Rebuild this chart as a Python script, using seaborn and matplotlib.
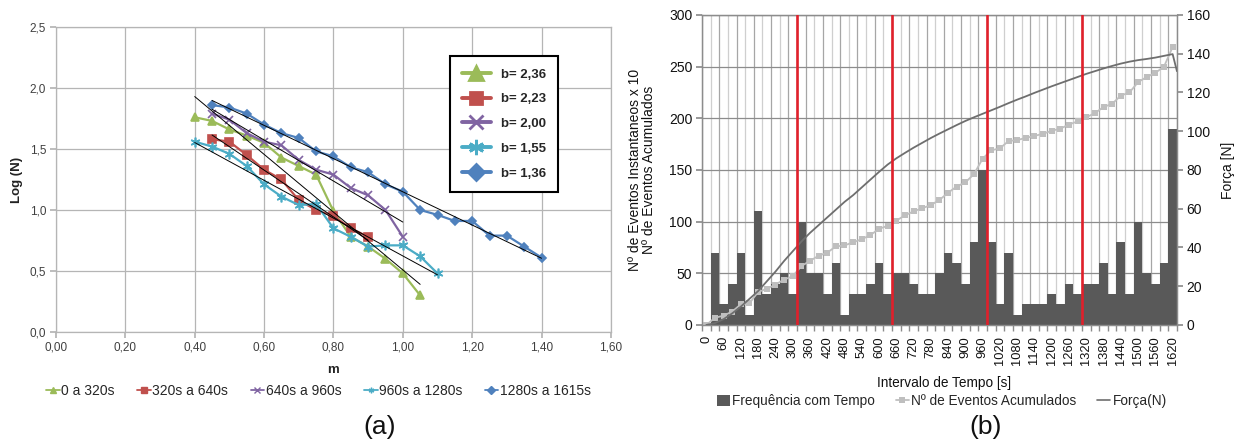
import numpy as np
import matplotlib
matplotlib.use("Agg")
import matplotlib.pyplot as plt
import seaborn as sns
from matplotlib.lines import Line2D
from matplotlib.patches import Patch
from matplotlib.ticker import FuncFormatter, MultipleLocator

# ---------------- Panel (a) data ----------------
m_s1 = [0.40, 0.45, 0.50, 0.55, 0.60, 0.65, 0.70, 0.75, 0.80, 0.85, 0.90, 0.95, 1.00, 1.05]
logn_s1 = [1.76, 1.73, 1.66, 1.61, 1.55, 1.43, 1.36, 1.29, 0.99, 0.78, 0.70, 0.60, 0.48, 0.30]

m_s2 = [0.45, 0.50, 0.55, 0.60, 0.65, 0.70, 0.75, 0.80, 0.85, 0.90]
logn_s2 = [1.58, 1.56, 1.45, 1.33, 1.25, 1.08, 1.00, 0.95, 0.85, 0.78]

m_s3 = [0.45, 0.50, 0.55, 0.60, 0.65, 0.70, 0.75, 0.80, 0.85, 0.90, 0.95, 1.00]
logn_s3 = [1.79, 1.74, 1.63, 1.56, 1.53, 1.41, 1.33, 1.29, 1.18, 1.12, 1.00, 0.78]

m_s4 = [0.40, 0.45, 0.50, 0.55, 0.60, 0.65, 0.70, 0.75, 0.80, 0.85, 0.90, 0.95, 1.00, 1.05, 1.10]
logn_s4 = [1.56, 1.52, 1.46, 1.36, 1.21, 1.11, 1.04, 1.05, 0.85, 0.78, 0.70, 0.71, 0.71, 0.62, 0.48]

m_s5 = [0.45, 0.50, 0.55, 0.60, 0.65, 0.70, 0.75, 0.80, 0.85, 0.90, 0.95, 1.00,
        1.05, 1.10, 1.15, 1.20, 1.25, 1.30, 1.35, 1.40]
logn_s5 = [1.86, 1.84, 1.79, 1.70, 1.63, 1.59, 1.48, 1.44, 1.35, 1.31, 1.21, 1.15,
           1.00, 0.96, 0.91, 0.91, 0.79, 0.79, 0.70, 0.61]

series_labels = ["0 a 320s", "320s a 640s", "640s a 960s", "960s a 1280s", "1280s a 1615s"]
b_labels = ["b= 2,36", "b= 2,23", "b= 2,00", "b= 1,55", "b= 1,36"]

# ---------------- Panel (b) data ----------------
time_s = [0, 30, 60, 90, 120, 150, 180, 210, 240, 270, 300, 330, 360, 390, 420, 450,
          480, 510, 540, 570, 600, 630, 660, 690, 720, 750, 780, 810, 840, 870, 900,
          930, 960, 990, 1020, 1050, 1080, 1110, 1140, 1170, 1200, 1230, 1260, 1290,
          1320, 1350, 1380, 1410, 1440, 1470, 1500, 1530, 1560, 1590, 1620]
freq_x10 = [0, 70, 20, 40, 70, 10, 110, 30, 40, 50, 30, 100, 50, 50, 30, 60, 10, 30,
            30, 40, 60, 30, 50, 50, 40, 30, 30, 50, 70, 60, 40, 80, 150, 80, 20, 70,
            10, 20, 20, 20, 30, 20, 40, 30, 40, 40, 60, 30, 80, 30, 100, 50, 40, 60, 190]
cumulative = [0, 7, 9, 13, 20, 21, 32, 35, 39, 44, 47, 57, 62, 67, 70, 76, 77, 80, 83,
              87, 93, 96, 101, 106, 110, 113, 116, 121, 128, 134, 138, 146, 161, 169,
              171, 178, 179, 181, 183, 185, 188, 190, 194, 197, 201, 205, 211, 214, 222,
              225, 235, 240, 244, 250, 269]
force_time = [0, 30, 60, 90, 120, 150, 180, 210, 240, 270, 300, 330, 360, 390, 420, 450,
              480, 510, 540, 570, 600, 630, 660, 690, 720, 750, 780, 810, 840, 870, 900,
              930, 960, 990, 1020, 1050, 1080, 1110, 1140, 1170, 1200, 1230, 1260, 1290,
              1320, 1350, 1380, 1410, 1440, 1470, 1500, 1530, 1560, 1590, 1620, 1635]
force_n = [0, 1, 3, 6, 9.5, 13.5, 17.5, 22.5, 27.5, 33, 38, 43, 47.5, 51.5, 55.5, 59.5,
           63.5, 67, 71, 75, 79, 82.8, 86, 88.8, 91.5, 94, 96.5, 98.8, 101, 103.2, 105.3,
           107.2, 109, 110.8, 112.6, 114.5, 116.3, 118, 119.8, 121.5, 123.2, 124.8,
           126.4, 128, 129.6, 131, 132.4, 133.7, 134.9, 135.9, 136.7, 137.3, 138, 138.9,
           139.8, 131]
red_marks_s = [315, 645, 975, 1305]
xtick_times = [0, 60, 120, 180, 240, 300, 360, 420, 480, 540, 600, 660, 720, 780, 840,
               900, 960, 1020, 1080, 1140, 1200, 1260, 1320, 1380, 1440, 1500, 1560, 1620]

# ---------------- Style ----------------
sns.set_theme(style="white")
plt.rcParams['font.family'] = ['Liberation Sans', 'DejaVu Sans']

fig = plt.figure(figsize=(12.44, 4.43), dpi=100)
axa = fig.add_axes([0.0450, 0.2506, 0.4461, 0.6885])
axb = fig.add_axes([0.5643, 0.2664, 0.3818, 0.6998])

# ---------------- Panel (a) ----------------
cols = ["#9BBB59", "#C0504D", "#8064A2", "#4BACC6", "#4F81BD"]
marks = ["^", "s", "x", (6, 2, 0), "D"]
msize = [6, 5.5, 6, 7, 4.5]
big_msize = [10, 9, 10, 11, 8]
data_a = [(m_s1, logn_s1), (m_s2, logn_s2), (m_s3, logn_s3), (m_s4, logn_s4), (m_s5, logn_s5)]

grid_a = "#B5B5B5"
for (xv, yv), c, mk, ms in zip(data_a, cols, marks, msize):
    sns.lineplot(x=np.array(xv), y=np.array(yv), ax=axa, color=c, marker=mk,
                 markersize=ms, markeredgecolor=c, markeredgewidth=1.2,
                 linewidth=1.6, zorder=3)
for (xv, yv) in data_a:
    sns.regplot(x=np.array(xv), y=np.array(yv), ax=axa, scatter=False, ci=None,
                truncate=True, line_kws=dict(color="black", lw=0.7, zorder=4))

axa.set_xlim(0, 1.6)
axa.set_ylim(0, 2.5)
axa.xaxis.set_major_locator(MultipleLocator(0.2))
axa.yaxis.set_major_locator(MultipleLocator(0.5))
axa.xaxis.set_major_formatter(FuncFormatter(lambda v, _: f"{v:.2f}".replace(".", ",")))
axa.yaxis.set_major_formatter(FuncFormatter(lambda v, _: f"{v:.1f}".replace(".", ",")))
axa.grid(True, color=grid_a, lw=0.9)
axa.set_axisbelow(True)
for sp in axa.spines.values():
    sp.set_color(grid_a)
    sp.set_linewidth(0.9)
axa.tick_params(direction="out", length=4, color=grid_a, labelsize=8.5,
                labelcolor="#404040", left=True, bottom=True, pad=3)
axa.set_xlabel("m", fontweight="bold", fontsize=9.5, color="#222222")
axa.xaxis.set_label_coords(0.5, -0.104)
axa.set_ylabel("Log (N)", fontweight="bold", fontsize=9.5, color="#222222")
axa.yaxis.set_label_coords(-0.06, 0.5)

big_handles = [Line2D([0], [0], color=c, lw=2.8, marker=mk, markersize=bm,
                      markeredgecolor=c, markeredgewidth=2)
               for c, mk, bm in zip(cols, marks, big_msize)]
leg1 = axa.legend(big_handles, b_labels, loc="upper left", bbox_to_anchor=(0.698, 0.925),
                  frameon=True, prop=dict(weight="bold", size=9.5), handlelength=2.2,
                  labelspacing=0.95, borderpad=0.9, fancybox=False, edgecolor="black",
                  framealpha=1, handletextpad=0.8)
leg1.get_frame().set_linewidth(1.5)

small_handles = [Line2D([0], [0], color=c, lw=1.3, marker=mk, markersize=4,
                        markeredgecolor=c, markeredgewidth=1)
                 for c, mk in zip(cols, marks)]
fig.legend(small_handles, series_labels, loc="center", bbox_to_anchor=(0.256, 0.117),
           ncol=5, frameon=False, fontsize=10, handlelength=1.0, columnspacing=1.6,
           handletextpad=0.1)

# ---------------- Panel (b) ----------------
bar_col = "#595959"
for k in range(len(time_s) + 1):
    axb.axvline(time_s[0] - 15 + 30 * k, color="#A6A6A6" if k % 2 == 0 else "#CFCFCF",
                lw=0.9, zorder=0.5)
axb.yaxis.grid(True, color="#8C8C8C", lw=0.9)
axb.set_axisbelow(True)

sns.barplot(x=time_s, y=freq_x10, ax=axb, color=bar_col, width=1.0, saturation=1,
            native_scale=True, linewidth=0, zorder=2)
sns.lineplot(x=time_s, y=cumulative, ax=axb, color="#BFBFBF", marker="s", markersize=4.2,
             markeredgewidth=0, linewidth=1.3, zorder=3)

ax2 = axb.twinx()
sns.lineplot(x=force_time, y=force_n, ax=ax2, color="#6E6E6E", linewidth=1.3, zorder=4)
for t in red_marks_s:
    ax2.axvline(t, color="#E0202B", lw=1.9, zorder=5)

axb.set_xlim(-15, 1635)
axb.set_ylim(0, 300)
ax2.set_ylim(0, 160)
axb.set_yticks([0, 50, 100, 150, 200, 250, 300])
ax2.set_yticks([0, 20, 40, 60, 80, 100, 120, 140, 160])
axb.set_xticks(xtick_times)
axb.set_xticklabels([str(t) for t in xtick_times], rotation=90)
axb.set_xticks([t - 15 for t in time_s] + [time_s[-1] + 15], minor=True)
axb.tick_params(axis="x", which="major", length=0, labelsize=9.3, pad=8, labelcolor="#111111")
axb.tick_params(axis="x", which="minor", length=4, color="#8C8C8C", bottom=True)
axb.tick_params(axis="y", length=4, color="#8C8C8C", labelsize=10, left=True,
                labelcolor="#111111", pad=3)
ax2.tick_params(axis="y", length=4, color="#8C8C8C", labelsize=10, right=True,
                labelcolor="#111111", pad=3)
for a in (axb, ax2):
    for sp in a.spines.values():
        sp.set_color("#8C8C8C")
        sp.set_linewidth(0.9)

axb.set_xlabel("Intervalo de Tempo [s]", fontsize=9.8, color="#111111")
axb.xaxis.set_label_coords(0.51, -0.163)
axb.set_ylabel("Nº de Eventos Instantaneos x 10\nNº de Eventos Acumulados", fontsize=10,
               color="#111111", linespacing=1.0)
axb.yaxis.set_label_coords(-0.096, 0.5)
ax2.set_ylabel("Força [N]", fontsize=10, color="#111111")
ax2.yaxis.set_label_coords(1.092, 0.5)

b_handles = [Patch(facecolor=bar_col, edgecolor="none"),
             Line2D([0], [0], color="#BFBFBF", lw=1.3, marker="s", markersize=4,
                    markeredgewidth=0),
             Line2D([0], [0], color="#6E6E6E", lw=1.2)]
fig.legend(b_handles, ["Frequência com Tempo", "Nº de Eventos Acumulados", "Força(N)"],
           loc="center", bbox_to_anchor=(0.757, 0.094), ncol=3, frameon=False,
           fontsize=9.8, handlelength=1.0, handleheight=0.8, columnspacing=1.5,
           handletextpad=0.15)

fig.text(0.3055, 0.037, "(a)", fontsize=19, ha="center", va="center", color="#111111")
fig.text(0.792, 0.037, "(b)", fontsize=19, ha="center", va="center", color="#111111")

fig.savefig("out.png", dpi=100)
